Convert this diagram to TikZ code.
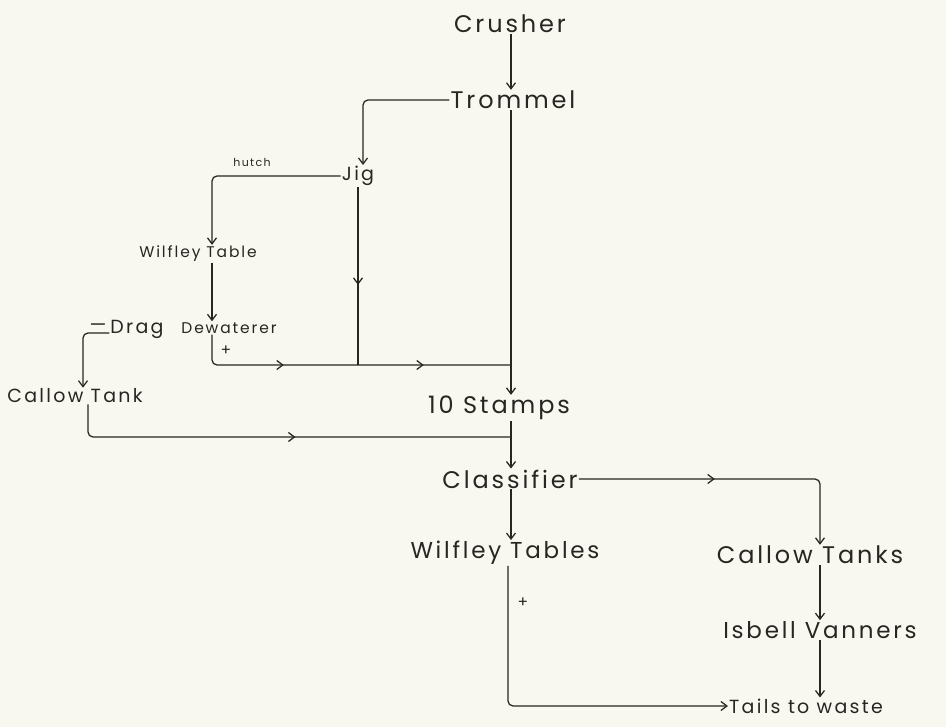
\documentclass[tikz,border=0pt]{standalone}
\usepackage{fontspec}
\setmainfont{Poppins}[LetterSpace=12]
\usetikzlibrary{arrows.meta,decorations.markings}
\definecolor{paper}{RGB}{248,248,240}
\definecolor{ink}{RGB}{38,38,34}
\begin{document}
\begin{tikzpicture}[x=1pt,y=-1pt,
  ln/.style={draw, color=ink, line width=1.25pt, rounded corners=5pt},
  arr/.style={ln, -{Straight Barb[length=6pt,width=9pt]}},
  big/.style={text=ink, inner sep=1pt, font=\fontsize{24}{26}\selectfont},
  med/.style={text=ink, inner sep=1pt, font=\fontsize{19}{21}\selectfont},
  sml/.style={text=ink, inner sep=1pt, font=\fontsize{15.5}{17}\selectfont},
  tiny/.style={text=ink, inner sep=1pt, font=\fontsize{11}{12}\selectfont},
  tipat/.style={postaction=decorate, decoration={markings, mark=at position #1 with {\arrow{Straight Barb[length=6pt,width=9pt]}}}}
]
\fill[paper] (0,0) rectangle (946,727);
\useasboundingbox (0,0) rectangle (946,727);

% columns
\coordinate (xT) at (511,0);
\coordinate (xW) at (212,0);
\coordinate (xC) at (83,0);
\coordinate (xD) at (88,0);
\coordinate (xR) at (820,0);
\coordinate (xP) at (508,0);
\coordinate (J) at (358,365);
\coordinate (K) at (0,437);

% nodes
\node[big] (crusher) at (510,24) {Crusher};
\node[big] (trommel) at (513,100) {Trommel};
\node[med] (jig) at (358,176) {Jig};
\node[tiny] (hutch) at (252,162) {hutch};
\node[sml] (wt) at (198,254) {Wilfley Table};
\node[sml] (dew) at (229,328) {Dewaterer};
\node[med] (drag) at (137,329) {Drag};
\node[med] (minus) at (98,328) {—};
\node[med] (callow) at (75,396) {Callow Tank};
\node[big] (stamps) at (499,408) {10 Stamps};
\node[big] (class) at (510,479) {Classifier};
\node[big,font=\fontsize{23}{25}\selectfont] (wts) at (505,553) {Wilfley Tables};
\node[big] (ct) at (810,555) {Callow Tanks};
\node[big,font=\fontsize{23}{25}\selectfont] (iv) at (820,630) {Isbell Vanners};
\node[med] (tails) at (806,706) {Tails to waste};
\node[sml] (p1) at (226,351) {+};
\node[sml] (p2) at (523,603) {+};

% connectors
\draw[arr] (crusher.south -| xT) -- (xT |- trommel.north);
\draw[arr] (trommel.west) -| ([xshift=5pt]jig.north);
\draw[arr] (trommel.south -| xT) -- (xT |- stamps.north);
\draw[arr] (jig.west) -| (xW |- wt.north);
\draw[arr] (xW |- wt.south) -- (xW |- dew.north);
\draw[ln, tipat=0.55] (jig.south) -- (J);
\draw[ln, postaction=decorate, decoration={markings,
   mark=at position 100pt with {\arrow{Straight Barb[length=6pt,width=9pt]}},
   mark=at position 240pt with {\arrow{Straight Barb[length=6pt,width=9pt]}}}]
   (xW |- dew.south) -- (xW |- J) -- (xT |- J);
\draw[arr] ([yshift=-4pt]drag.west) -| (xC |- callow.north);
\draw[ln, tipat=238pt] (xD |- callow.south) -- (xD |- K) -- (xT |- K);
\draw[arr] (xT |- stamps.south) -- (xT |- class.north);
\draw[arr, tipat=136pt] (class.east) -| (xR |- ct.north);
\draw[arr] (xT |- class.south) -- (xT |- wts.north);
\draw[arr] (xR |- ct.south) -- (xR |- iv.north);
\draw[arr] (xR |- iv.south) -- (xR |- tails.north);
\draw[arr] (xP |- wts.south) |- (tails.west);
\end{tikzpicture}
\end{document}
